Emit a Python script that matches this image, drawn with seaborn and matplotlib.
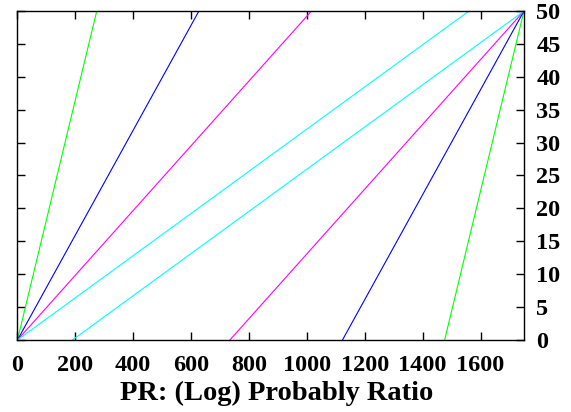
import matplotlib
matplotlib.use("Agg")
import matplotlib.pyplot as plt
import seaborn as sns
import pandas as pd

sns.set_theme(style="white")
plt.rcParams['font.family'] = ['Liberation Serif', 'DejaVu Serif']
plt.rcParams['font.weight'] = 'bold'

# x-axis end and y-axis end
x_max = 1750
y_max = 50

# lines that start at the origin and end at the top (x at y=50)
top_ends = [274, 627, 1016, 1560]
# lines that start on the bottom (x at y=0) and end in the top-right corner
bottom_starts = [1476, 1123, 734, 190]
line_colors = ['#00ff00', '#0000ff', '#ff00ff', '#00ffff']

rows = []
for i, (xe, xs, c) in enumerate(zip(top_ends, bottom_starts, line_colors)):
    rows.append({'line': f'a{i}', 'x': 0, 'y': 0, 'color': c})
    rows.append({'line': f'a{i}', 'x': xe, 'y': y_max, 'color': c})
    rows.append({'line': f'b{i}', 'x': xs, 'y': 0, 'color': c})
    rows.append({'line': f'b{i}', 'x': x_max, 'y': y_max, 'color': c})
df = pd.DataFrame(rows)

fig = plt.figure(figsize=(5.71, 4.12), dpi=100)
ax = fig.add_axes([0.0306, 0.1748, 0.887, 0.7985])

palette = {r['line']: r['color'] for r in rows}
sns.lineplot(data=df, x='x', y='y', hue='line', palette=palette,
             estimator=None, sort=False, linewidth=0.8, legend=False, ax=ax)

ax.set_xlim(0, x_max)
ax.set_ylim(0, y_max)
ax.set_xticks(range(0, 1601, 200))
ax.set_yticks(range(0, 51, 5))
ax.yaxis.tick_right()
ax.tick_params(axis='both', direction='in', length=5.5, width=1, color='black',
               top=True, bottom=True, left=True, right=True,
               labelsize=17.5, labelcolor='black')
ax.tick_params(axis='x', pad=11)
ax.tick_params(axis='y', pad=9)
for lab in ax.get_xticklabels() + ax.get_yticklabels():
    lab.set_fontweight('bold')
for s in ax.spines.values():
    s.set_color('black')
    s.set_linewidth(1)

ax.set_ylabel('')
ax.set_xlabel('PR: (Log) Probably Ratio', fontsize=20.5, fontweight='bold',
              color='black', labelpad=3)
ax.xaxis.set_label_coords(0.512, -0.125)
ax.xaxis.label.set_verticalalignment('top')

fig.savefig('out.png', dpi=100)
